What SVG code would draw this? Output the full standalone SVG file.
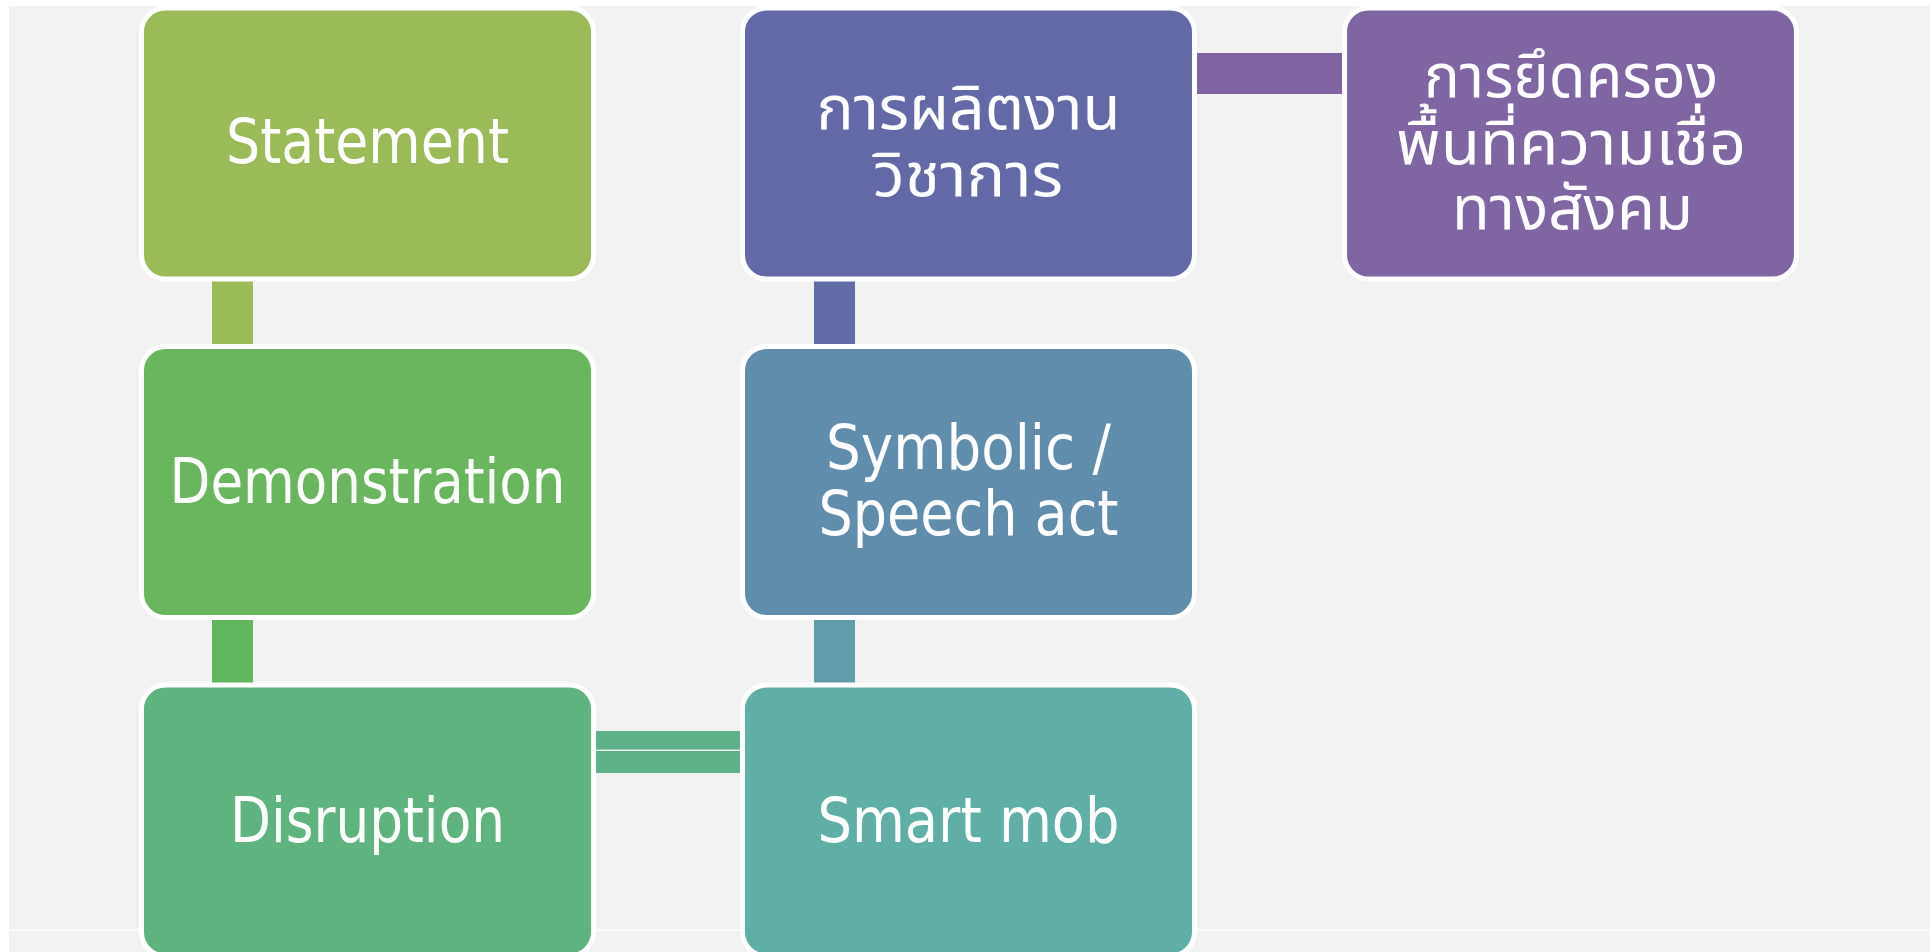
<svg xmlns="http://www.w3.org/2000/svg" width="1932" height="952" viewBox="0 0 1932 952">
<style>
.box{stroke:#ffffff;stroke-width:5}
.en{font-family:"DejaVu Sans Condensed","DejaVu Sans",sans-serif;font-stretch:condensed;font-size:62px;fill:#ffffff;text-anchor:middle}
.th{font-family:"Noto Sans Thai","Tahoma","Loma","Garuda","DejaVu Sans",sans-serif;font-size:60px;fill:#ffffff;text-anchor:middle}
</style>
<rect x="0" y="0" width="1932" height="952" fill="#ffffff"/>
<rect x="9" y="6" width="1921" height="946" fill="#f2f2f2"/>
<rect x="9" y="929.5" width="1921" height="1.4" fill="#ffffff"/>
<g id="connectors">
<rect x="212" y="276" width="41" height="72" fill="#9bbb59"/>
<rect x="212" y="615" width="41" height="72" fill="#62b65e"/>
<rect x="592" y="731" width="152" height="42" fill="#5db28a"/>
<rect x="592" y="749.6" width="152" height="1.4" fill="#ffffff"/>
<rect x="814" y="615" width="41" height="72" fill="#609caa"/>
<rect x="814" y="276" width="41" height="72" fill="#626ca6"/>
<rect x="1193" y="53" width="153" height="41" fill="#8064a2"/>
</g>
<g id="statement">
<rect class="box" x="141.5" y="8" width="452" height="271" rx="24" fill="#9bbb59"/>
<text class="en" x="367.5" y="163.3" textLength="283" lengthAdjust="spacingAndGlyphs">Statement</text>
</g>
<g id="demonstration">
<rect class="box" x="141.5" y="346.5" width="452" height="271" rx="24" fill="#6ab65e"/>
<text class="en" x="367.5" y="502.7" textLength="396" lengthAdjust="spacingAndGlyphs">Demonstration</text>
</g>
<g id="disruption">
<rect class="box" x="141.5" y="685" width="452" height="271" rx="24" fill="#5eb37e"/>
<text class="en" x="367.5" y="841.7" textLength="275" lengthAdjust="spacingAndGlyphs">Disruption</text>
</g>
<g id="smartmob">
<rect class="box" x="742.5" y="685" width="452" height="271" rx="24" fill="#5fafa6"/>
<text class="en" x="968.5" y="841.7" textLength="302" lengthAdjust="spacingAndGlyphs">Smart mob</text>
</g>
<g id="symbolic">
<rect class="box" x="742.5" y="346.5" width="452" height="271" rx="24" fill="#5f8dab"/>
<text class="en" x="968.5" y="469.3" textLength="285" lengthAdjust="spacingAndGlyphs">Symbolic /</text>
<text class="en" x="968.5" y="535" textLength="300" lengthAdjust="spacingAndGlyphs">Speech act</text>
</g>
<g id="academic">
<rect class="box" x="742.5" y="8" width="452" height="271" rx="24" fill="#6269a6"/>
<text class="th" x="968.5" y="129.3" textLength="304" lengthAdjust="spacingAndGlyphs">การผลิตงาน</text>
<text class="th" x="968" y="196" textLength="190" lengthAdjust="spacingAndGlyphs">วิชาการ</text>
</g>
<g id="social">
<rect class="box" x="1344.5" y="8" width="452" height="271" rx="24" fill="#7f65a2"/>
<text class="th" x="1571" y="96.7" textLength="294" lengthAdjust="spacingAndGlyphs">การยึดครอง</text>
<text class="th" x="1571" y="164" textLength="350" lengthAdjust="spacingAndGlyphs">พื้นที่ความเชื่อ</text>
<text class="th" x="1572.5" y="229" textLength="241" lengthAdjust="spacingAndGlyphs">ทางสังคม</text>
</g>
</svg>
